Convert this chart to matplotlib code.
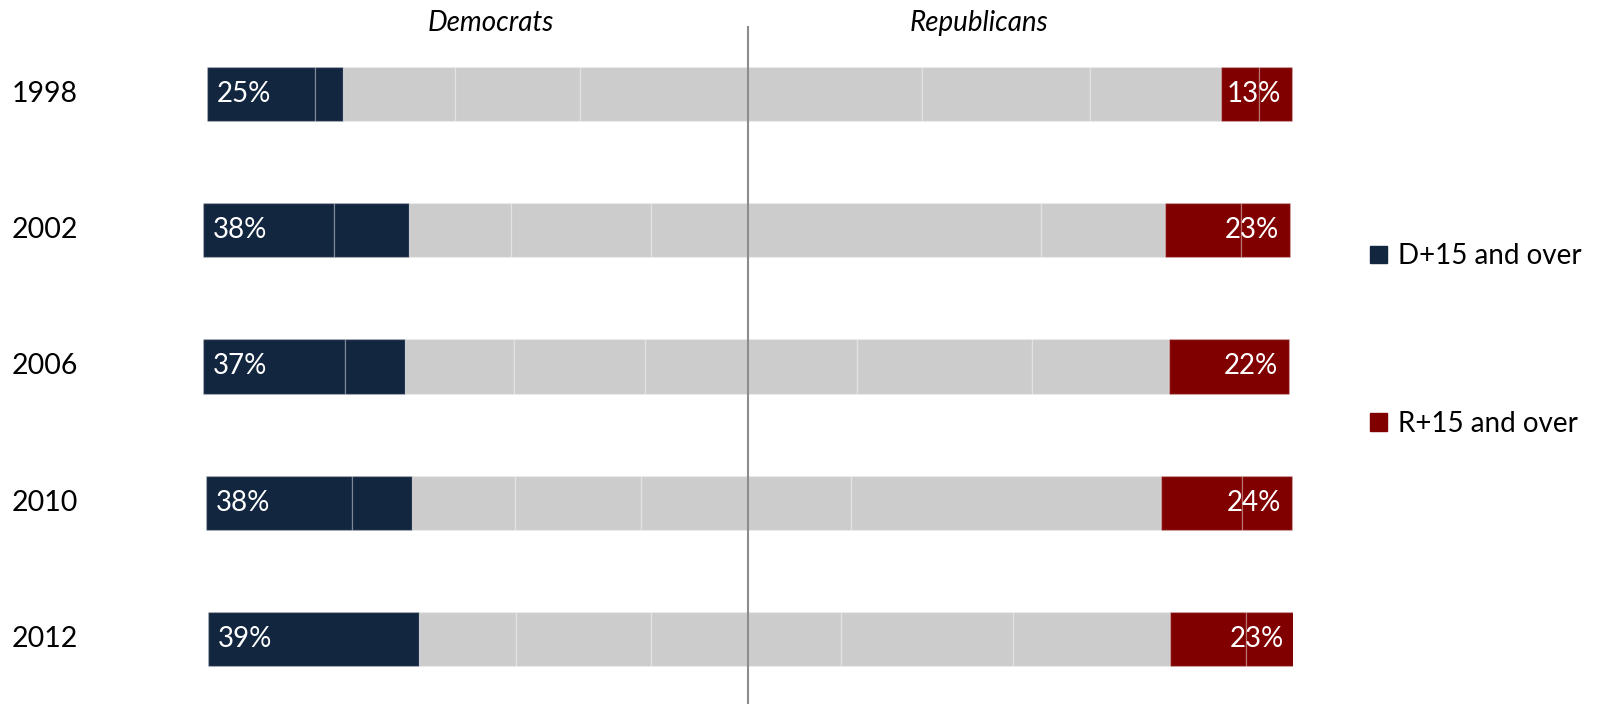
# Safe-seat share by party, diverging bars around the party split

import matplotlib
matplotlib.use("Agg")
import matplotlib.pyplot as plt
import matplotlib.transforms as mtransforms
from matplotlib.patches import Patch
import numpy as np

plt.rcParams['font.family'] = ['Lato', 'DejaVu Sans']

years = ["1998", "2002", "2006", "2010", "2012"]

# Democrats, left half (outermost first)
dem_d_a = [19.8, 24.0, 26.1, 26.8, 38.6]
dem_d_b = [5.1, 13.8, 11.0, 11.0, 0.0]
dem_g1 = [20.7, 18.7, 20.0, 18.9, 17.8]
dem_g2 = [22.9, 25.7, 24.0, 23.1, 24.8]
dem_g3 = [30.8, 17.8, 18.9, 19.6, 17.8]

# Republicans, right half (from the centre out)
rep_g1 = [31.9, 53.8, 20.0, 18.9, 17.1]
rep_g2 = [30.8, 0.0, 32.1, 56.9, 31.6]
rep_g3 = [24.0, 22.8, 25.1, 0.0, 28.8]
rep_r_a = [7.0, 13.8, 22.0, 14.9, 13.8]
rep_r_b = [6.1, 9.0, 0.0, 9.2, 9.0]

navy = "#12263f"
red = "#800000"
grey = "#cccccc"

dem_cols = [(dem_d_a, navy), (dem_d_b, navy), (dem_g1, grey), (dem_g2, grey), (dem_g3, grey)]
rep_cols = [(rep_g1, grey), (rep_g2, grey), (rep_g3, grey), (rep_r_a, red), (rep_r_b, red)]

fig = plt.figure(figsize=(16.1, 7.04), dpi=100)
ax = fig.add_axes([203 / 1610, 0, 1090 / 1610, 678 / 704])
ax.set_xlim(0, 200)
ax.set_ylim(4.477, -0.499)
ax.axis("off")

y = np.arange(len(years))
h = 0.40
edge = (1, 1, 1, 0.22)
year_tr = mtransforms.blended_transform_factory(fig.transFigure, ax.transData)

for i in range(len(years)):
    dem_total = sum(col[i] for col, _ in dem_cols)
    left = 100 - dem_total
    for col, c in dem_cols:
        if col[i] > 0:
            ax.barh(y[i], col[i], left=left, height=h, color=c, edgecolor=edge, linewidth=1)
        left += col[i]
    left = 100
    for col, c in rep_cols:
        if col[i] > 0:
            ax.barh(y[i], col[i], left=left, height=h, color=c, edgecolor=edge, linewidth=1)
        left += col[i]
    right_end = left

    d15 = dem_d_a[i] + dem_d_b[i]
    r15 = rep_r_a[i] + rep_r_b[i]
    ax.text(100 - dem_total + 1.8, y[i], f"{d15:.0f}%", color="white", fontsize=20,
            va="center", ha="left")
    ax.text(right_end - 2.0, y[i], f"{r15:.0f}%", color="white", fontsize=20,
            va="center", ha="right")
    ax.text(12 / 1610, y[i], years[i], transform=year_tr, fontsize=20.5,
            va="center", ha="left")

ax.axvline(100, color="#8c8c8c", linewidth=1.5)

fig.text(491 / 1610, 1 - 23 / 704, "Democrats", fontsize=20, style="italic",
         ha="center", va="center")
fig.text(979 / 1610, 1 - 23 / 704, "Republicans", fontsize=20, style="italic",
         ha="center", va="center")

handles = [Patch(color=navy), Patch(color=red)]
fig.legend(handles, ["D+15 and over", "R+15 and over"], loc="center left",
           bbox_to_anchor=(1370 / 1610, 1 - 340 / 704), frameon=False, fontsize=20,
           handlelength=0.6, handleheight=0.6, handletextpad=0.4, labelspacing=5.1,
           borderpad=0, borderaxespad=0)

fig.savefig("out.png", dpi=100)
